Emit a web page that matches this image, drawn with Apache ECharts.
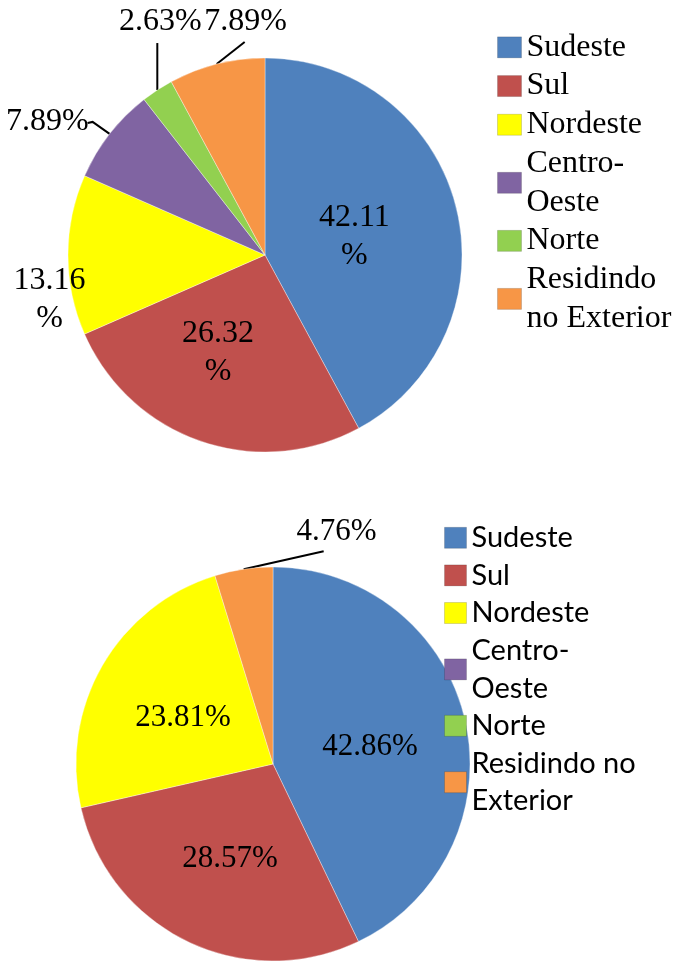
<!DOCTYPE html>
<html>
<head>
<meta charset="utf-8">
<script src="https://cdn.jsdelivr.net/npm/echarts@6/dist/echarts.min.js"></script>
<style>
  html, body { margin: 0; padding: 0; background: #fff; }
  #top { width: 678px; height: 480px; }
  #bottom { width: 678px; height: 481px; }
</style>
</head>
<body>
<div id="top"></div>
<div id="bottom"></div>
<script>
const regions = ['Sudeste', 'Sul', 'Nordeste', 'Centro-Oeste', 'Norte', 'Residindo no Exterior'];
const topValues = [42.11, 26.32, 13.16, 7.89, 2.63, 7.89];
const bottomValues = [42.86, 28.57, 23.81, 0, 0, 4.76];
const topLegendText = ['Sudeste', 'Sul', 'Nordeste', 'Centro-\nOeste', 'Norte', 'Residindo\nno Exterior'];
const bottomLegendText = ['Sudeste', 'Sul', 'Nordeste', 'Centro-\nOeste', 'Norte', 'Residindo no\nExterior'];

const colors = ['#4F81BD', '#C0504D', '#FFFF00', '#8064A2', '#92D050', '#F79646'];

// label placement per slice (styling only)
const topLabelCfg = [
  { pos: 'inside', wrap: true, dx: -9, dy: 6 },
  { pos: 'inside', wrap: true, dx: -14, dy: 2 },
  { pos: 'inside', wrap: true, dx: -114, dy: 45 },
  { pos: 'outside', line: [[-17, -12], [-22, -11]], tx: 1, ty: -1, align: 'right', va: 'middle' },
  { pos: 'outside', line: [[0, -47]], tx: 3, ty: -2, align: 'center', va: 'bottom' },
  { pos: 'outside', line: [[28, -22]], tx: 1, ty: -1, align: 'center', va: 'bottom' }
];
const bottomLabelCfg = [
  { pos: 'inside', dx: -2, dy: 5 },
  { pos: 'inside', dx: 1, dy: 3 },
  { pos: 'inside', dx: -2, dy: 5 },
  { pos: 'inside' },
  { pos: 'inside' },
  { pos: 'outside', line: [[80, -18]], tx: 13, ty: 0, align: 'center', va: 'bottom' }
];

function makeLayout(cfg) {
  return function (params) {
    const c = cfg[params.dataIndex];
    if (!c) return;
    if (c.pos === 'inside') return { dx: c.dx || 0, dy: c.dy || 0 };
    if (!params.labelLinePoints) return;
    const p0 = params.labelLinePoints[0];
    const pts = [[p0[0], p0[1]]].concat(c.line.map(d => [p0[0] + d[0], p0[1] + d[1]]));
    const end = pts[pts.length - 1];
    return {
      x: end[0] + c.tx,
      y: end[1] + c.ty,
      align: c.align,
      verticalAlign: c.va,
      labelLinePoints: pts
    };
  };
}

function pieSeries(values, center, cfg, fontSize) {
  return {
    type: 'pie',
    radius: 197,
    center: center,
    startAngle: 90,
    clockwise: true,
    avoidLabelOverlap: false,
    animation: false,
    emphasis: { disabled: true },
    itemStyle: { borderColor: 'rgba(255,255,255,0.6)', borderWidth: 0.6 },
    label: {
      color: '#000',
      fontFamily: 'Liberation Serif',
      fontSize: fontSize,
      lineHeight: 38
    },
    labelLine: { lineStyle: { color: '#000', width: 2 } },
    labelLayout: makeLayout(cfg),
    data: regions.map((name, i) => ({
      name: name,
      value: values[i],
      itemStyle: { color: colors[i], borderWidth: values[i] > 0 ? 0.6 : 0 },
      label: {
        show: values[i] > 0,
        position: cfg[i].pos,
        formatter: p => p.value.toFixed(2) + (cfg[i].wrap ? '\n%' : '%')
      },
      labelLine: { show: values[i] > 0 && cfg[i].pos === 'outside', length: 10, length2: 5 }
    }))
  };
}

function legendOf(texts, left, top, iw, font, size, lh) {
  return {
    data: regions,
    orient: 'vertical',
    left: left,
    top: top,
    padding: 0,
    itemGap: 0,
    itemWidth: iw,
    itemHeight: 21,
    icon: 'rect',
    selectedMode: false,
    itemStyle: { borderColor: 'rgba(0,0,0,0.15)', borderWidth: 1 },
    formatter: n => texts[regions.indexOf(n)],
    textStyle: { fontFamily: font, fontSize: size, lineHeight: lh, color: '#000' }
  };
}

const topChart = echarts.init(document.getElementById('top'));
topChart.setOption({
  backgroundColor: '#fff',
  textStyle: { fontFamily: 'Liberation Serif' },
  legend: legendOf(topLegendText, 497, 28, 24, 'Liberation Serif', 32, 38.7),
  series: [pieSeries(topValues, [265, 255], topLabelCfg, 32)]
});

const bottomChart = echarts.init(document.getElementById('bottom'));
bottomChart.setOption({
  backgroundColor: '#fff',
  textStyle: { fontFamily: 'Lato' },
  legend: legendOf(bottomLegendText, 444, 39, 22, 'Lato', 29, 37.6),
  series: [pieSeries(bottomValues, [273, 284], bottomLabelCfg, 31)]
});
</script>
</body>
</html>
